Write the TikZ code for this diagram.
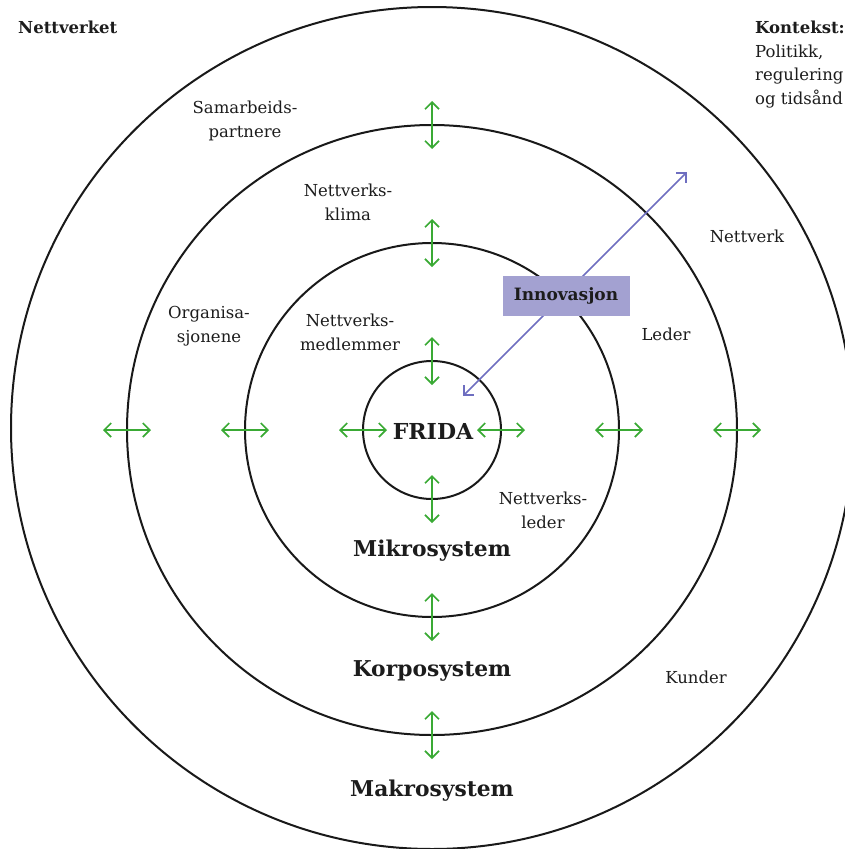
\documentclass[tikz,border=0pt]{standalone}
\usepackage{fontspec}
\setmainfont{DejaVu Serif}
\usetikzlibrary{arrows.meta}
\definecolor{ringgreen}{HTML}{3AAA35}
\definecolor{innoline}{HTML}{6E6EC0}
\definecolor{innofill}{HTML}{A3A1D1}
\definecolor{inktext}{HTML}{1C1C1C}
\tikzset{
  ring/.style={draw=black!90, line width=2pt},
  flow/.style={draw=ringgreen, line width=1.7pt,
    {Straight Barb[length=7pt,width=14pt]}-{Straight Barb[length=7pt,width=14pt]}},
  innoarrow/.style={draw=innoline, line width=1.6pt,
    {Straight Barb[length=7pt,width=14pt]}-{Straight Barb[length=7pt,width=14pt]}},
  label/.style={text=inktext, font=\fontsize{16.5}{24}\selectfont, align=center, inner sep=0pt},
  levelname/.style={text=inktext, font=\fontsize{21.8}{24}\selectfont\bfseries, inner sep=0pt},
  corner/.style={text=inktext, font=\fontsize{16.5}{23.5}\selectfont, align=left, inner sep=0pt, anchor=north west},
  innobox/.style={fill=innofill, text=inktext, font=\fontsize{17}{18}\selectfont\bfseries,
    minimum width=127pt, minimum height=40pt, inner sep=0pt},
}
\begin{document}
\begin{tikzpicture}[x=1pt, y=-1pt]
\useasboundingbox (0,0) rectangle (845,849);
\coordinate (c) at (432,430);

% four nested levels
\draw[ring] (432,428) circle (421pt);
\draw[ring] (c) circle (305pt);
\draw[ring] (c) circle (187pt);
\draw[ring] (c) circle (69pt);

% exchange across each ring boundary
\foreach \r/\n in {69/a,187/b,305/c} {
  \coordinate (w\n1) at (432-\r-24,430);
  \coordinate (w\n2) at (432-\r+24,430);
  \coordinate (e\n1) at (432+\r-24,430);
  \coordinate (e\n2) at (432+\r+24,430);
  \coordinate (n\n1) at (432,430-\r-24);
  \coordinate (n\n2) at (432,430-\r+24);
  \coordinate (s\n1) at (432,430+\r-24);
  \coordinate (s\n2) at (432,430+\r+24);
  \draw[flow] (w\n1) -- (w\n2);
  \draw[flow] (e\n1) -- (e\n2);
  \draw[flow] (n\n1) -- (n\n2);
  \draw[flow] (s\n1) -- (s\n2);
}

% innovation running from the centre outwards
\coordinate (innoin) at (463,396);
\coordinate (innoout) at (687,172);
\draw[innoarrow] (innoin) -- (innoout);
\node[innobox] (inno) at (566,296) {Innovasjon};

% level names
\node[levelname, font=\fontsize{22}{24}\selectfont\bfseries] (frida) at (433,431) {FRIDA};
\node[levelname] (mikro) at (432,551) {Mikrosystem};
\node[levelname] (korpo) at (432,671) {Korposystem};
\node[levelname] (makro) at (432,791) {Makrosystem};

% actors within the levels
\node[label] (samarbeid) at (245,121) {Samarbeids-\\partnere};
\node[label] (klima) at (348,202) {Nettverks-\\klima};
\node[label] (org) at (209,326) {Organisa-\\sjonene};
\node[label] (medlem) at (350,332) {Nettverks-\\medlemmer};
\node[label] (nettverk) at (747,236) {Nettverk};
\node[label] (leder) at (666,334) {Leder};
\node[label] (nleder) at (543,510) {Nettverks-\\leder};
\node[label] (kunder) at (696,677) {Kunder};

% headings
\node[corner, font=\fontsize{16.5}{23.5}\selectfont\bfseries] (nettverket) at (18,21) {Nettverket};
\node[corner] (kontekst) at (755,21) {\textbf{Kontekst:}\\Politikk,\\regulering\\og tidsånd};
\end{tikzpicture}
\end{document}
